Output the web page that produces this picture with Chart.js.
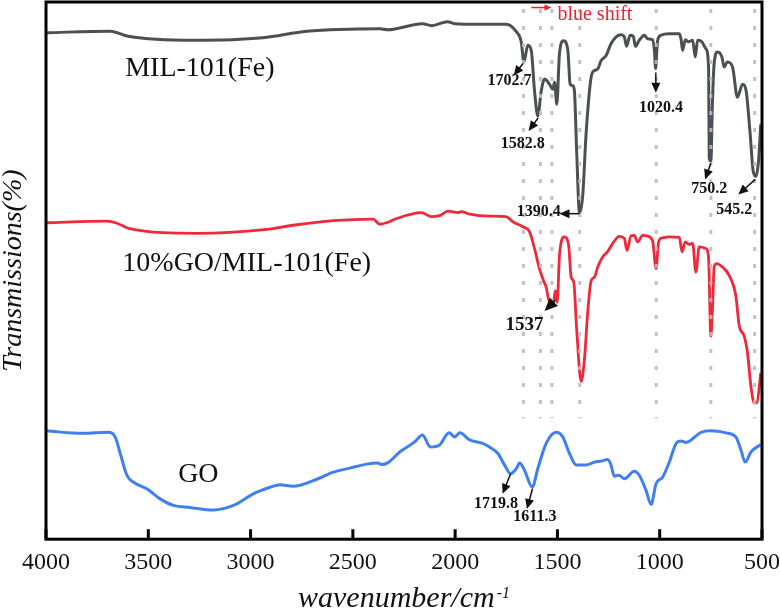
<!DOCTYPE html>
<html>
<head>
<meta charset="utf-8">
<script src="https://cdn.jsdelivr.net/npm/chart.js@4.4.0/dist/chart.umd.min.js"></script>
<style>
  html, body { margin: 0; padding: 0; background: #fff; }
  #wrap { width: 780px; height: 611px; }
</style>
</head>
<body>
<div id="wrap"><canvas id="ftir"></canvas></div>
<script>
// FTIR spectra, values (transmission, arbitrary offset units)
var xTicks = [4000, 3500, 3000, 2500, 2000, 1500, 1000, 500];

var milWave = [4000, 3686, 3598, 3281, 2940, 2725, 2368, 2330, 2159, 2115, 2037, 2003, 1880, 1750, 1701, 1677, 1664, 1645, 1628, 1612,
    1596, 1579, 1563, 1539, 1523, 1514, 1503, 1490, 1470, 1449, 1438, 1425, 1417, 1406, 1392, 1376, 1360, 1335, 1319, 1303,
    1286, 1262, 1238, 1213, 1189, 1173, 1162, 1145, 1129, 1119, 1100, 1075, 1059, 1035, 1026, 1020, 1014, 1010, 994, 953,
    904, 896, 888, 875, 859, 839, 826, 815, 794, 774, 761, 758, 750, 742, 734, 717, 696, 685, 669, 644,
    620, 595, 579, 559, 543, 530, 517, 506];
var milT = [100.5, 100.8, 99.8, 99, 99.5, 100.8, 101.3, 101.1, 102.3, 101.9, 102.7, 102.3, 102.2, 102.2, 100.7, 98.7, 94.7, 98, 97, 89,
    84, 89, 91.3, 90.3, 89.3, 90.7, 86.3, 96.4, 98.9, 97, 90.3, 90, 89, 77, 64.8, 68.4, 80.4, 91.7, 93, 93.3,
    95, 96, 98.3, 99.7, 100.1, 99.7, 97.8, 100, 99.8, 97.8, 99, 100, 99.3, 99.1, 97, 93.4, 97, 99, 100, 100.3,
    100.3, 99.3, 97, 99.1, 98.7, 99, 95.7, 99, 98.7, 97.3, 93.7, 75.7, 75, 87, 94.3, 96.7, 95.7, 93.7, 94.7, 93.7,
    87.7, 90.3, 89.3, 81, 73, 72, 75, 82.3];

var compWave = [4000, 3702, 3653, 3597, 3263, 2921, 2792, 2596, 2401, 2368, 2328, 2295, 2165, 2116, 2076, 2035, 1986, 1970, 1929, 1832,
    1750, 1718, 1669, 1636, 1612, 1588, 1568, 1555, 1539, 1519, 1510, 1501, 1490, 1466, 1445, 1433, 1420, 1406, 1384, 1368,
    1352, 1335, 1319, 1303, 1279, 1254, 1230, 1197, 1173, 1160, 1140, 1124, 1108, 1083, 1067, 1035, 1018, 1005, 986, 953,
    904, 891, 875, 856, 839, 823, 807, 774, 761, 750, 742, 734, 722, 693, 660, 628, 611, 587, 571, 554,
    538, 525, 506];
var compT = [62.8, 63.1, 62.7, 61.7, 60.7, 61.5, 62.3, 63.2, 63.5, 62.5, 62.9, 63.5, 64.8, 64, 64.2, 65.1, 64.8, 65, 64.5, 64.1,
    64, 63, 62, 61, 57.7, 53.7, 51.3, 50, 47, 47.1, 49.3, 47, 56.3, 60, 58.3, 52, 51, 41.7, 31.3, 35.7,
    45, 51.3, 52, 54, 56, 57.1, 58.7, 60.1, 59.7, 57.3, 60.2, 60.3, 59, 60.3, 60.2, 59.3, 53.7, 59.1, 59.8, 60,
    59.9, 57, 59, 58.5, 58.7, 53, 58, 57.7, 55.7, 40.3, 45.7, 54, 54.7, 54, 52.3, 48.3, 42.3, 40.3, 37, 30.3,
    27, 27.1, 33];

var goWave = [4000, 3817, 3695, 3662, 3637, 3605, 3572, 3507, 3442, 3377, 3296, 3182, 3084, 2987, 2954, 2905, 2857, 2792, 2670, 2596,
    2515, 2433, 2377, 2360, 2328, 2271, 2198, 2160, 2121, 2076, 2030, 2002, 1978, 1929, 1872, 1832, 1791, 1758, 1729, 1701,
    1685, 1661, 1623, 1596, 1555, 1506, 1474, 1441, 1408, 1360, 1319, 1286, 1254, 1238, 1222, 1201, 1173, 1124, 1100, 1067,
    1042, 1018, 986, 953, 920, 896, 872, 798, 750, 676, 628, 603, 582, 554, 506];
var goT = [21.5, 21, 21.2, 20.3, 17, 12.7, 11.3, 10, 8, 6.7, 6.3, 5.8, 6.7, 9, 9.6, 10.3, 10.8, 10.5, 12, 13.3,
    14.1, 14.9, 15.1, 14.8, 15.2, 17.3, 19.3, 20.7, 18.3, 18.7, 21.1, 20.3, 21.1, 19.7, 19.1, 18.3, 17, 14.7, 13, 14,
    15.1, 13.7, 10.3, 14, 19, 21.2, 20.3, 17, 14.7, 14.7, 15.3, 15.5, 15.8, 14.7, 12.5, 12.7, 12, 13.5, 12.7, 9.7,
    6.9, 11, 12.3, 15.3, 19, 19.5, 19.2, 21.2, 21.5, 21.1, 20.3, 17.7, 15.3, 17.3, 18.8];

// guide lines through the marked bands
var bandLines = [1666, 1583, 1527, 1391, 1017, 750, 536];

// curve names: [text, wavenumber at left edge, level]
var curveNames = [
    ['MIL-101(Fe)', 3613, 93.4],
    ['10%GO/MIL-101(Fe)', 3627, 54.6],
    ['GO', 3354, 12.9]
];

// peak labels: [text, label x, label y, arrow from x, from y, arrow to x, to y, font px]
var peakLabels = [
    ['1702.7', 1734, 91, 1668, 94.4, 1714, 92, 16],
    ['1582.8', 1669, 78.5, 1594, 83.6, 1641, 81, 16],
    ['1390.4', 1591, 65, 1392, 64.6, 1490, 64.6, 16],
    ['1020.4', 994, 85.5, 1019, 92.6, 1019, 88.6, 16],
    ['750.2', 758, 69.5, 750, 74.6, 778, 71.4, 16],
    ['545.2', 636, 65.3, 533, 71.4, 616, 68.4, 16],
    ['1537', 1661, 42.5, 1510, 47.4, 1563, 45.3, 19],
    ['1719.8', 1800, 7, 1729, 13, 1768, 9, 16],
    ['1611.3', 1610, 4.4, 1622, 10, 1649, 6, 16]
];

function pts(w, t) {
    return w.map(function(v, i) { return { x: v, y: t[i] }; });
}

function arrow(ctx, x1, y1, x2, y2, head, color) {
    var a = Math.atan2(y2 - y1, x2 - x1);
    ctx.strokeStyle = color;
    ctx.fillStyle = color;
    ctx.lineWidth = 1.5;
    ctx.beginPath();
    ctx.moveTo(x1, y1);
    ctx.lineTo(x2 - Math.cos(a) * head * 0.8, y2 - Math.sin(a) * head * 0.8);
    ctx.stroke();
    ctx.beginPath();
    ctx.moveTo(x2, y2);
    ctx.lineTo(x2 - head * Math.cos(a) + head * 0.45 * Math.sin(a), y2 - head * Math.sin(a) - head * 0.45 * Math.cos(a));
    ctx.lineTo(x2 - head * Math.cos(a) - head * 0.45 * Math.sin(a), y2 - head * Math.sin(a) + head * 0.45 * Math.cos(a));
    ctx.closePath();
    ctx.fill();
}

var decor = {
    id: 'decor',
    afterDatasetsDraw: function(chart) {
        var ctx = chart.ctx, sx = chart.scales.x, sy = chart.scales.y;
        ctx.save();
        ctx.strokeStyle = 'rgba(185,188,190,0.9)';
        ctx.lineWidth = 3;
        ctx.setLineDash([4, 13]);
        bandLines.forEach(function(w) {
            var px = sx.getPixelForValue(w);
            ctx.beginPath();
            ctx.moveTo(px, sy.getPixelForValue(105.2));
            ctx.lineTo(px, sy.getPixelForValue(24));
            ctx.stroke();
        });
        ctx.restore();
    },
    afterDraw: function(chart) {
        var ctx = chart.ctx, sx = chart.scales.x, sy = chart.scales.y, a = chart.chartArea;
        ctx.save();
        // frame
        ctx.strokeStyle = '#000';
        ctx.lineWidth = 3;
        ctx.strokeRect(a.left, a.top, a.right - a.left, a.bottom - a.top);
        // inward ticks
        xTicks.forEach(function(v) {
            var px = sx.getPixelForValue(v);
            ctx.beginPath();
            ctx.moveTo(px, a.bottom);
            ctx.lineTo(px, a.bottom - 10);
            ctx.stroke();
        });

        // curve names
        ctx.fillStyle = '#111';
        ctx.textBaseline = 'middle';
        ctx.textAlign = 'left';
        ctx.font = '28px "Liberation Serif"';
        curveNames.forEach(function(c) {
            ctx.fillText(c[0], sx.getPixelForValue(c[1]), sy.getPixelForValue(c[2]));
        });

        // peak labels and arrows
        ctx.textAlign = 'center';
        peakLabels.forEach(function(p) {
            ctx.fillStyle = '#111';
            ctx.font = 'bold ' + p[7] + 'px "Liberation Serif"';
            ctx.fillText(p[0], sx.getPixelForValue(p[1]), sy.getPixelForValue(p[2]));
            arrow(ctx, sx.getPixelForValue(p[3]), sy.getPixelForValue(p[4]),
                sx.getPixelForValue(p[5]), sy.getPixelForValue(p[6]), p[7] > 17 ? 13 : 10, '#111');
        });

        // blue shift note
        arrow(ctx, sx.getPixelForValue(1628), sy.getPixelForValue(105.5),
            sx.getPixelForValue(1529), sy.getPixelForValue(105.5), 7, '#e8262f');
        ctx.fillStyle = '#e8262f';
        ctx.textAlign = 'left';
        ctx.font = '20px "Liberation Serif"';
        ctx.fillText('blue shift', sx.getPixelForValue(1500), sy.getPixelForValue(104));

        // x axis title with superscript
        var cx = (a.left + a.right) / 2;
        ctx.fillStyle = '#111';
        ctx.textBaseline = 'alphabetic';
        ctx.font = 'italic 30px "Liberation Serif"';
        var main = 'wavenumber/cm';
        var wMain = ctx.measureText(main).width;
        ctx.font = 'italic 16px "Liberation Serif"';
        var wSup = ctx.measureText('-1').width;
        var x0 = cx - (wMain + wSup + 2) / 2;
        ctx.font = 'italic 30px "Liberation Serif"';
        ctx.fillText(main, x0, 607);
        ctx.font = 'italic 16px "Liberation Serif"';
        ctx.fillText('-1', x0 + wMain + 2, 598);
        ctx.restore();
    }
};

var ctx = document.getElementById('ftir').getContext('2d');
var ftirChart = new Chart(ctx, {
    type: 'line',
    data: {
        datasets: [{
            label: 'MIL-101(Fe)',
            data: pts(milWave, milT),
            borderColor: '#4d5053',
            borderWidth: 3
        }, {
            label: '10%GO/MIL-101(Fe)',
            data: pts(compWave, compT),
            borderColor: '#f0283a',
            borderWidth: 2.8
        }, {
            label: 'GO',
            data: pts(goWave, goT),
            borderColor: '#3f7ff0',
            borderWidth: 3
        }]
    },
    options: {
        responsive: true,
        maintainAspectRatio: false,
        animation: false,
        elements: {
            point: { radius: 0 },
            line: { cubicInterpolationMode: 'monotone', fill: false }
        },
        layout: { padding: { top: 2, right: 18, bottom: 25, left: 0 } },
        plugins: {
            legend: { display: false },
            tooltip: { enabled: false }
        },
        scales: {
            x: {
                type: 'linear',
                reverse: true,
                min: 500,
                max: 4000,
                grid: { display: false, drawTicks: false },
                border: { display: false },
                afterFit: function(scale) {
                    // end labels may hang past the frame, as in the figure
                    scale.paddingLeft = 0;
                    scale.paddingRight = 0;
                },
                ticks: {
                    stepSize: 500,
                    padding: 9,
                    color: '#111',
                    font: { family: 'Liberation Serif', size: 24 },
                    callback: function(v) { return String(v); }
                }
            },
            y: {
                min: 0,
                max: 106.6,
                grid: { display: false, drawTicks: false },
                border: { display: false },
                ticks: { display: false },
                title: {
                    display: true,
                    text: 'Transmissions(%)',
                    color: '#111',
                    padding: { top: 0, bottom: 18 },
                    font: { family: 'Liberation Serif', size: 28, style: 'italic', lineHeight: 1 }
                }
            }
        }
    },
    plugins: [decor]
});
</script>
</body>
</html>
